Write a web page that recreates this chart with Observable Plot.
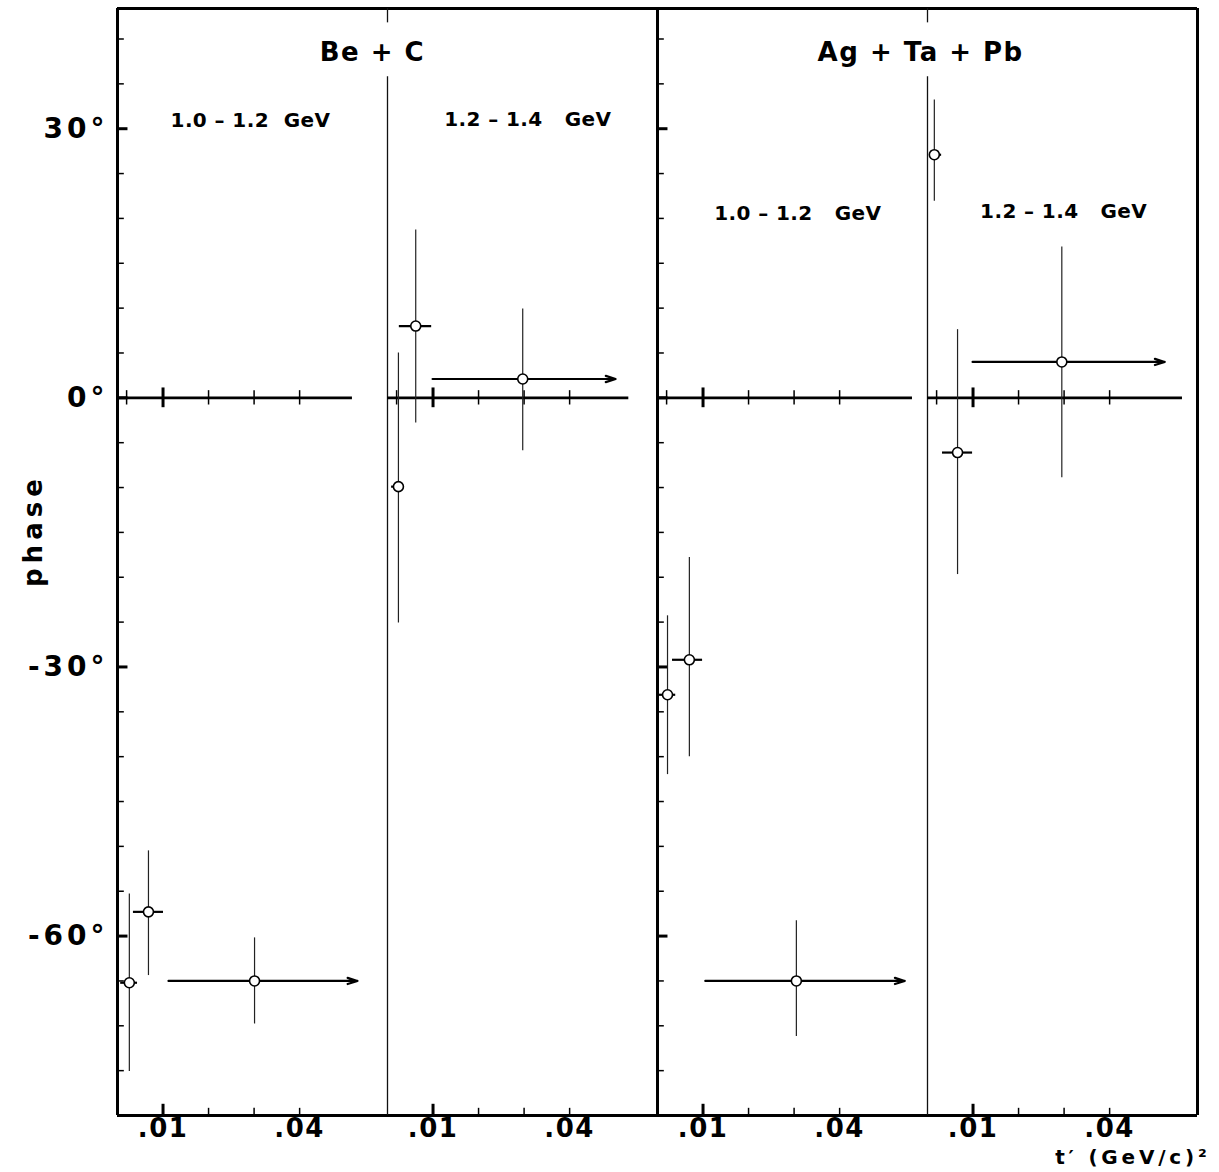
<!DOCTYPE html>
<html>
<head>
<meta charset="utf-8">
<script src="https://cdn.jsdelivr.net/npm/d3@7"></script>
<script src="https://cdn.jsdelivr.net/npm/@observablehq/plot@0.6"></script>
<style>
  html, body { margin: 0; padding: 0; background: #fff; }
  #chart { width: 1219px; height: 1172px; }
</style>
</head>
<body>
<div id="chart"></div>
<script>
// ---------- data ----------
// four sub-panels: 0,1 = Be + C ; 2,3 = Ag + Ta + Pb
const panels = [0, 1, 2, 3];
const targetNames = ["Be + C", "Ag + Ta + Pb"];
const energyBins = ["1.0 – 1.2\u00a0\u00a0GeV", "1.2 – 1.4\u00a0\u00a0\u00a0GeV", "1.0 – 1.2\u00a0\u00a0\u00a0GeV", "1.2 – 1.4\u00a0\u00a0\u00a0GeV"];

// measured points (t' in (GeV/c)^2, phase in degrees)
const pointPanel = [0, 0, 0, 1, 1, 1, 2, 2, 2, 3, 3, 3];
const tValue     = [0.0026, 0.0068, 0.0301, 0.0024, 0.0062, 0.0297, 0.0022, 0.0070, 0.0305, 0.0015, 0.0066, 0.0295];
const tLow       = [0.0007, 0.0035, 0.0112, 0.0009, 0.0026, 0.0099, 0.0000, 0.0033, 0.0105, 0.0007, 0.0033, 0.0099];
const tHigh      = [0.0044, 0.0101, 0.0527, 0.0035, 0.0097, 0.0501, 0.0040, 0.0099, 0.0543, 0.0031, 0.0099, 0.0521];
const phaseValue = [-65.2, -57.3, -65.0, -9.9, 8.0, 2.1, -33.1, -29.2, -65.0, 27.1, -6.1, 4.0];
const phaseLow   = [-75.1, -64.4, -69.8, -25.1, -2.8, -5.9, -42.0, -40.0, -71.2, 21.9, -19.7, -8.9];
const phaseHigh  = [-55.3, -50.5, -60.2, 5.0, 18.7, 9.9, -24.3, -17.8, -58.3, 33.2, 7.6, 16.8];
const openEnded  = [false, false, true, false, false, true, false, false, true, false, false, true];

// axes
const yTickValues = [30, 0, -30, -60];
const yMinorTickValues = [40, 35, 25, 20, 15, 10, 5, -5, -10, -15, -20, -25, -35, -40, -45, -50, -55, -65, -70, -75];
const xTickLabelValues = [0.01, 0.04];
const xMajorTick = [0.01];
const xMinorTicks = [0.02, 0.03, 0.04];
const zeroLineMinorTicks = [0.002, 0.02, 0.03, 0.04];
const zeroLineEnd = [0.0516, 0.0530, 0.0560, 0.0560];

// ---------- layout constants ----------
const yMin = -80, yMax = 43.4, xMax = 0.0593;

const pts = pointPanel.map((p, i) => ({
  panel: p, t: tValue[i], tLo: tLow[i], tHi: tHigh[i],
  phase: phaseValue[i], lo: phaseLow[i], hi: phaseHigh[i], open: openEnded[i]
}));
const closedBars = pts.filter(d => !d.open);
const openBars = pts.filter(d => d.open);

const zeroLines = panels.map(p => ({panel: p, end: zeroLineEnd[p]}));
const bigPanels = [0, 2];
const yMajorTicks = bigPanels.flatMap(p => yTickValues.map(v => ({panel: p, v})));
const yMinorTicks = bigPanels.flatMap(p => yMinorTickValues.map(v => ({panel: p, v})));

const titles = [
  {panel: 1, x: -0.0033, y: 38.5, text: targetNames[0]},
  {panel: 3, x: -0.0015, y: 38.5, text: targetNames[1]}
];
const energyLabels = [
  {panel: 0, x: 0.0292, y: 30.9, text: energyBins[0]},
  {panel: 1, x: 0.0308, y: 31.0, text: energyBins[1]},
  {panel: 2, x: 0.0308, y: 20.5, text: energyBins[2]},
  {panel: 3, x: 0.0299, y: 20.8, text: energyBins[3]}
];

const chart = Plot.plot({
  width: 1219,
  height: 1172,
  marginLeft: 117,
  marginRight: 22,
  marginTop: 8,
  marginBottom: 57,
  style: {
    fontFamily: "'DejaVu Sans', sans-serif",
    fontWeight: "bold",
    fontSize: "28px",
    background: "white",
    color: "black",
    overflow: "visible"
  },
  fx: {domain: panels, padding: 0, axis: null, label: null},
  x: {
    domain: [0, xMax],
    ticks: xTickLabelValues,
    tickFormat: d => d.toFixed(2).slice(1),
    tickSize: 0,
    tickPadding: 3,
    label: null
  },
  y: {
    domain: [yMin, yMax],
    ticks: yTickValues,
    tickFormat: d => `${d}°`,
    tickSize: 0,
    tickPadding: 9,
    label: null
  },
  marks: [
    // frame: top and bottom (repeated in every sub-panel)
    Plot.ruleY([yMax], {stroke: "black", strokeWidth: 3}),
    Plot.ruleY([yMin], {stroke: "black", strokeWidth: 3}),
    // thick frame verticals of the two big panels
    Plot.ruleX(bigPanels, {fx: d => d, x: () => 0, y1: () => yMin, y2: () => yMax, stroke: "black", strokeWidth: 3}),
    Plot.ruleX([3], {fx: d => d, x: () => xMax, y1: () => yMin, y2: () => yMax, stroke: "black", strokeWidth: 3}),
    // thin dividers between energy bins (gap behind the title)
    Plot.ruleX([1, 3], {fx: d => d, x: () => 0, y1: () => yMin, y2: () => 35.8, stroke: "#111", strokeWidth: 1.3}),
    Plot.ruleX([1, 3], {fx: d => d, x: () => 0, y1: () => 41.8, y2: () => yMax, stroke: "#111", strokeWidth: 1.3}),
    // y ticks pointing inward
    Plot.ruleY(yMinorTicks, {fx: "panel", y: "v", x1: () => 0, x2: () => 0.0015, stroke: "black", strokeWidth: 1.5}),
    Plot.ruleY(yMajorTicks, {fx: "panel", y: "v", x1: () => 0, x2: () => 0.0023, stroke: "black", strokeWidth: 3}),
    // bottom ticks pointing inward
    Plot.ruleX(xMinorTicks, {x: d => d, y1: () => yMin, y2: () => yMin + 0.8, stroke: "black", strokeWidth: 1.5}),
    Plot.ruleX(xMajorTick, {x: d => d, y1: () => yMin, y2: () => yMin + 1.25, stroke: "black", strokeWidth: 3}),
    // zero lines with their ticks
    Plot.ruleY(zeroLines, {fx: "panel", y: () => 0, x1: () => 0, x2: "end", stroke: "black", strokeWidth: 2.6}),
    Plot.ruleX(zeroLineMinorTicks, {x: d => d, y1: () => -0.8, y2: () => 0.8, stroke: "black", strokeWidth: 1.5}),
    Plot.ruleX(xMajorTick, {x: d => d, y1: () => -1.1, y2: () => 1.1, stroke: "black", strokeWidth: 3}),
    // error bars
    Plot.ruleX(pts, {fx: "panel", x: "t", y1: "lo", y2: "hi", stroke: "#222", strokeWidth: 1.2}),
    Plot.ruleY(closedBars, {fx: "panel", y: "phase", x1: "tLo", x2: "tHi", stroke: "black", strokeWidth: 2.2}),
    Plot.arrow(openBars, {fx: "panel", x1: "tLo", x2: "tHi", y1: "phase", y2: "phase", stroke: "black", strokeWidth: 2.2, headLength: 7, headAngle: 35}),
    // data points: open circles
    Plot.dot(pts, {fx: "panel", x: "t", y: "phase", r: 5, fill: "white", stroke: "black", strokeWidth: 1.6}),
    // titles
    Plot.text(titles, {fx: "panel", x: "x", y: "y", text: "text", fontSize: 26, fontWeight: "bold", textAnchor: "middle"}),
    Plot.text(energyLabels, {fx: "panel", x: "x", y: "y", text: "text", fontSize: 20, fontWeight: "bold", textAnchor: "middle"}),
    // y axis title
    Plot.text(["phase"], {fx: () => 0, y: () => -14.8, text: d => d, frameAnchor: "left", rotate: -90, dx: -84, fontSize: 26, fontWeight: "bold", textAnchor: "middle"}),
    // x axis title
    Plot.text(["t′ (GeV/c)²"], {fx: () => 3, text: d => d, frameAnchor: "bottom-right", textAnchor: "end", dx: 13, dy: 48, fontSize: 20, fontWeight: "bold"})
  ]
});

document.getElementById("chart").appendChild(chart);

// letter spacing / sizes to imitate the wide lettering of the original
d3.select(chart).selectAll("text").each(function () {
  const s = this.textContent;
  const t = d3.select(this);
  if (s.includes("°")) t.attr("letter-spacing", 4);
  else if (s.startsWith(".")) t.attr("letter-spacing", 1.5).attr("font-size", 26);
  else if (s.includes("GeV/c")) t.attr("letter-spacing", 3.8);
  else if (s.includes("GeV")) t.attr("letter-spacing", 0.4);
  else if (s === "phase") t.attr("letter-spacing", 5);
  else if (s.includes("+")) t.attr("letter-spacing", 1.5);
});
</script>
</body>
</html>
